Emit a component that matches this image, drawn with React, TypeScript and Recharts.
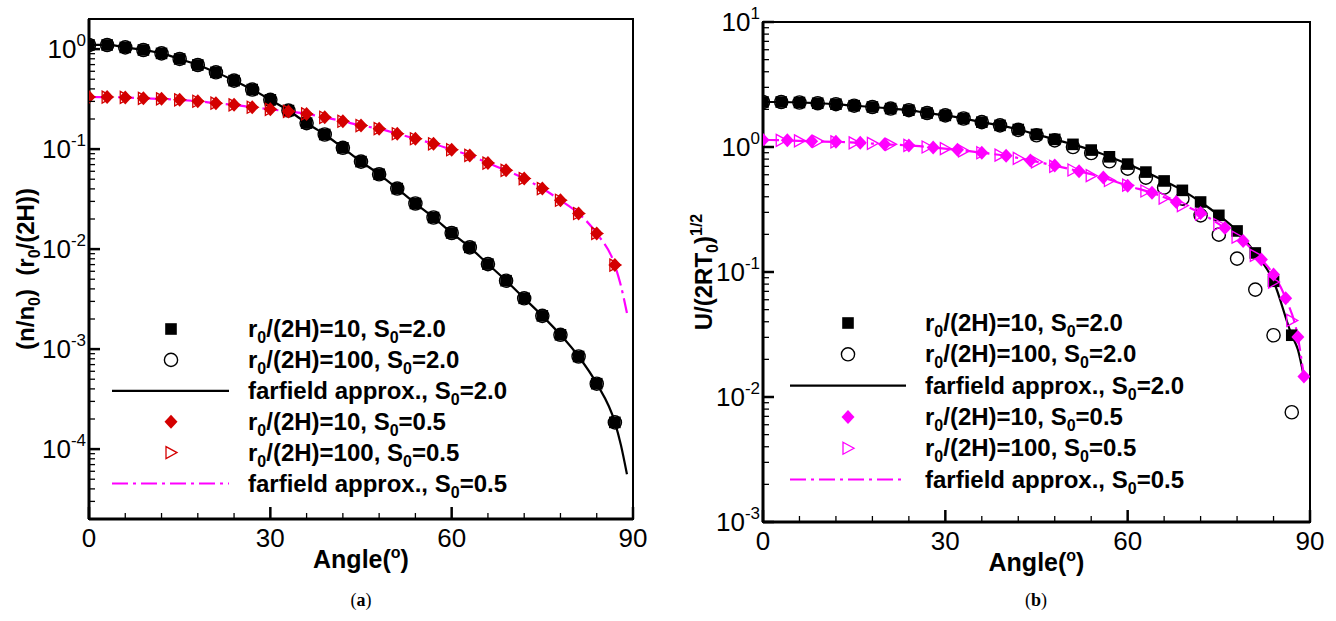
import React from "react";
import {
  ComposedChart,
  Line,
  Scatter,
  XAxis,
  YAxis,
  ReferenceArea,
  Legend,
  Label,
} from "recharts";

const FONT = "'Liberation Sans', Arial, sans-serif";
const RED = "#d40000";
const MAGENTA = "#ff00ff";

// ---------- (a) density ----------
const densAngles = [0, 3, 6, 9, 12, 15, 18, 21, 24, 27, 30, 33, 36, 39, 42, 45, 48, 51, 54, 57, 60, 63, 66, 69, 72, 75, 78, 81, 84, 87];
const densSq2 = [1.1, 1.1, 1.04, 0.98, 0.906, 0.797, 0.694, 0.586, 0.484, 0.394, 0.311, 0.243, 0.182, 0.14, 0.103, 0.075, 0.056, 0.0403, 0.0286, 0.0207, 0.0145, 0.0104, 0.00708, 0.00483, 0.00322, 0.00215, 0.00139, 0.000844, 0.000451, 0.000185];
const densCirc2 = [1.1, 1.1, 1.04, 0.98, 0.906, 0.797, 0.694, 0.586, 0.484, 0.394, 0.311, 0.243, 0.182, 0.14, 0.103, 0.075, 0.056, 0.0403, 0.0286, 0.0207, 0.0145, 0.0104, 0.00708, 0.00483, 0.00322, 0.00215, 0.00139, 0.000844, 0.000451, 0.000185];
const densLineAngles = [0, 3, 6, 9, 12, 15, 18, 21, 24, 27, 30, 33, 36, 39, 42, 45, 48, 51, 54, 57, 60, 63, 66, 69, 72, 75, 78, 81, 84, 87, 88, 89];
const densLine2 = [1.1, 1.1, 1.04, 0.98, 0.906, 0.797, 0.694, 0.586, 0.484, 0.394, 0.311, 0.243, 0.182, 0.14, 0.103, 0.075, 0.056, 0.0403, 0.0286, 0.0207, 0.0145, 0.0104, 0.00708, 0.00483, 0.00322, 0.00215, 0.00139, 0.000844, 0.000451, 0.000185, 0.00011, 0.000056];
const densDia05 = [0.332, 0.331, 0.329, 0.322, 0.318, 0.311, 0.301, 0.288, 0.277, 0.262, 0.25, 0.238, 0.225, 0.208, 0.19, 0.172, 0.16, 0.1425, 0.127, 0.113, 0.0986, 0.0865, 0.0725, 0.0613, 0.0507, 0.0403, 0.0308, 0.0227, 0.01435, 0.00692];
const densTri05 = [0.332, 0.331, 0.329, 0.322, 0.318, 0.311, 0.301, 0.288, 0.277, 0.262, 0.25, 0.238, 0.225, 0.208, 0.19, 0.172, 0.16, 0.1425, 0.127, 0.113, 0.0986, 0.0865, 0.0725, 0.0613, 0.0507, 0.0403, 0.0308, 0.0227, 0.01435, 0.00692];
const densLine05 = [0.332, 0.331, 0.329, 0.322, 0.318, 0.311, 0.301, 0.288, 0.277, 0.262, 0.25, 0.238, 0.225, 0.208, 0.19, 0.172, 0.16, 0.1425, 0.127, 0.113, 0.0986, 0.0865, 0.0725, 0.0613, 0.0507, 0.0403, 0.0308, 0.0227, 0.01435, 0.00692, 0.0043, 0.0023];

// ---------- (b) velocity ----------
const velAngles = [0, 3, 6, 9, 12, 15, 18, 21, 24, 27, 30, 33, 36, 39, 42, 45, 48, 51, 54, 57, 60, 63, 66, 69, 72, 75, 78, 81, 84, 87];
const velSq2 = [2.29, 2.29, 2.27, 2.24, 2.2, 2.14, 2.09, 2.03, 1.97, 1.87, 1.79, 1.69, 1.58, 1.49, 1.38, 1.26, 1.15, 1.05, 0.945, 0.835, 0.73, 0.63, 0.535, 0.45, 0.363, 0.284, 0.213, 0.142, 0.0843, 0.0312];
const velCirc2 = [2.29, 2.29, 2.27, 2.24, 2.2, 2.14, 2.09, 2.03, 1.97, 1.87, 1.79, 1.69, 1.58, 1.49, 1.37, 1.24, 1.13, 1.0, 0.895, 0.769, 0.671, 0.569, 0.473, 0.386, 0.284, 0.199, 0.128, 0.0723, 0.0312, 0.00755];
const velLineAngles = [0, 3, 6, 9, 12, 15, 18, 21, 24, 27, 30, 33, 36, 39, 42, 45, 48, 51, 54, 57, 60, 63, 66, 69, 72, 75, 78, 81, 84, 87, 88, 89];
const velLine2 = [2.29, 2.29, 2.27, 2.24, 2.2, 2.14, 2.09, 2.03, 1.97, 1.87, 1.79, 1.69, 1.58, 1.49, 1.38, 1.26, 1.15, 1.05, 0.945, 0.835, 0.73, 0.63, 0.535, 0.45, 0.363, 0.284, 0.213, 0.142, 0.0843, 0.0312, 0.024, 0.0145];
const velDiaAngles = [0, 4, 8, 12, 16, 20, 24, 28, 32, 36, 40, 44, 48, 52, 56, 60, 64, 68, 72, 76, 79, 82, 84, 86, 88, 89];
const velDia05 = [1.14, 1.13, 1.11, 1.1, 1.08, 1.05, 1.03, 0.99, 0.95, 0.9, 0.85, 0.78, 0.71, 0.64, 0.57, 0.49, 0.43, 0.363, 0.296, 0.225, 0.177, 0.126, 0.0953, 0.0616, 0.0302, 0.0146];
const velTri05 = [1.14, 1.13, 1.12, 1.11, 1.1, 1.08, 1.07, 1.05, 1.03, 1.0, 0.97, 0.93, 0.9, 0.86, 0.81, 0.76, 0.7, 0.655, 0.59, 0.54, 0.495, 0.445, 0.39, 0.34, 0.29, 0.24, 0.19, 0.136, 0.083, 0.041];
const velLine05 = [1.14, 1.13, 1.11, 1.1, 1.08, 1.05, 1.03, 0.99, 0.95, 0.9, 0.85, 0.78, 0.71, 0.64, 0.57, 0.49, 0.43, 0.363, 0.296, 0.225, 0.177, 0.126, 0.0953, 0.0616, 0.0302, 0.0146];

// axes
const angleTicks = [0, 6, 12, 18, 24, 30, 36, 42, 48, 54, 60, 66, 72, 78, 84, 90];
const densDomain = [2e-5, 2];
const densDecades = [-5, -4, -3, -2, -1, 0];
const velDomain = [1e-3, 10];
const velDecades = [-3, -2, -1, 0, 1];
const mantissas = [1, 2, 3, 4, 5, 6, 7, 8, 9];

const pts = (xs: number[], ys: number[]) => xs.map((a, i) => ({ a, v: ys[i] }));

const logTicks = (decades: number[], [lo, hi]: number[]) =>
  decades
    .flatMap((e) => mantissas.map((m) => m * Math.pow(10, e)))
    .filter((v) => v >= lo * 0.999 && v <= hi * 1.001);

function LogTick(props: any) {
  const { x, y, payload } = props;
  const lg = Math.log10(payload.value);
  const e = Math.round(lg);
  const major = Math.abs(lg - e) < 1e-6;
  return (
    <g>
      <line
        x1={x}
        x2={x + (major ? 11 : 6)}
        y1={y}
        y2={y}
        stroke="#000"
        strokeWidth={major ? 2.5 : 1.3}
      />
      {major && (
        <text
          x={x - 3}
          y={y}
          dy={9}
          textAnchor="end"
          fontSize={26}
          fontFamily={FONT}
          fill="#000"
        >
          10
          <tspan dy={-12} fontSize={17}>
            {e}
          </tspan>
        </text>
      )}
    </g>
  );
}

function AngleTick(props: any) {
  const { x, y, payload } = props;
  const major = payload.value % 30 === 0;
  return (
    <g>
      <line
        x1={x}
        x2={x}
        y1={y}
        y2={y - (major ? 12 : 6)}
        stroke="#000"
        strokeWidth={major ? 2.5 : 1.3}
      />
      {major && (
        <text
          x={x}
          y={y + 28}
          textAnchor="middle"
          fontSize={26}
          fontFamily={FONT}
          fill="#000"
        >
          {payload.value}
        </text>
      )}
    </g>
  );
}

const Square = (color: string) => (p: any) =>
  <rect x={p.cx - 5.8} y={p.cy - 5.8} width={11.6} height={11.6} fill={color} />;
const Circle = (color: string) => (p: any) =>
  <circle cx={p.cx} cy={p.cy} r={6.6} fill="none" stroke={color} strokeWidth={1.4} />;
const Diamond = (color: string) => (p: any) => (
  <polygon
    points={`${p.cx},${p.cy - 7} ${p.cx + 6.5},${p.cy} ${p.cx},${p.cy + 7} ${p.cx - 6.5},${p.cy}`}
    fill={color}
  />
);
const Triangle = (color: string) => (p: any) => (
  <polygon
    points={`${p.cx - 5},${p.cy - 6} ${p.cx + 6},${p.cy} ${p.cx - 5},${p.cy + 6}`}
    fill="none"
    stroke={color}
    strokeWidth={1.3}
  />
);

function SubText({ s, x, y }: { s: string; x: number; y: number }) {
  const parts = s.split("_0");
  return (
    <text x={x} y={y} fontSize={24} fontWeight="bold" fontFamily={FONT} fill="#000">
      {parts.map((p, i) => (
        <React.Fragment key={i}>
          <tspan dy={i === 0 ? 0 : -6}>{p}</tspan>
          {i < parts.length - 1 && (
            <tspan dy={6} fontSize={16}>
              0
            </tspan>
          )}
        </React.Fragment>
      ))}
    </text>
  );
}

type Row = { kind: string; color: string; text: string };

function LegendPanel({
  rows,
  markerX,
  lineX1,
  lineX2,
  textX,
  y0,
  dy,
}: {
  rows: Row[];
  markerX: number;
  lineX1: number;
  lineX2: number;
  textX: number;
  y0: number;
  dy: number;
}) {
  return (
    <svg width="100%" height="100%" style={{ overflow: "visible", pointerEvents: "none" }}>
      {rows.map((r, i) => {
        const cy = y0 + i * dy;
        const p = { cx: markerX, cy };
        let mark: React.ReactNode = null;
        if (r.kind === "square") mark = Square(r.color)(p);
        if (r.kind === "circle") mark = Circle(r.color)(p);
        if (r.kind === "diamond") mark = Diamond(r.color)(p);
        if (r.kind === "triangle") mark = Triangle(r.color)(p);
        if (r.kind === "line")
          mark = <line x1={lineX1} x2={lineX2} y1={cy} y2={cy} stroke={r.color} strokeWidth={2.2} />;
        if (r.kind === "dash")
          mark = (
            <line
              x1={lineX1}
              x2={lineX2}
              y1={cy}
              y2={cy}
              stroke={r.color}
              strokeWidth={2.2}
              strokeDasharray="16 5 3 5"
            />
          );
        return (
          <g key={i}>
            {mark}
            <SubText s={r.text} x={textX} y={cy + 8} />
          </g>
        );
      })}
    </svg>
  );
}

const legendText = [
  "r_0/(2H)=10, S_0=2.0",
  "r_0/(2H)=100, S_0=2.0",
  "farfield approx., S_0=2.0",
  "r_0/(2H)=10, S_0=0.5",
  "r_0/(2H)=100, S_0=0.5",
  "farfield approx., S_0=0.5",
];

function Panel({
  left,
  width,
  yWidth,
  margin,
  domain,
  decades,
  series,
  rows,
  legend,
  yTitle,
  yTitleX,
}: any) {
  return (
    <div style={{ position: "absolute", left, top: 0 }}>
      <ComposedChart width={width} height={621} margin={margin}>
        <XAxis
          type="number"
          dataKey="a"
          domain={[0, 90]}
          ticks={angleTicks}
          interval={0}
          allowDataOverflow
          height={60}
          tickSize={0}
          tickMargin={0}
          tickLine={false}
          tick={<AngleTick />}
          axisLine={{ stroke: "#000", strokeWidth: 3 }}
        >
          <Label
            content={(p: any) => {
              const vb = p.viewBox;
              return (
                <text
                  x={vb.x + vb.width / 2}
                  y={vb.y + 49}
                  textAnchor="middle"
                  fontSize={25}
                  fontWeight="bold"
                  fontFamily={FONT}
                  fill="#000"
                >
                  Angle(
                  <tspan dy={-10} fontSize={16}>
                    o
                  </tspan>
                  <tspan dy={10}>)</tspan>
                </text>
              );
            }}
          />
        </XAxis>
        <YAxis
          type="number"
          scale="log"
          domain={domain}
          allowDataOverflow
          ticks={logTicks(decades, domain)}
          interval={0}
          width={yWidth}
          tickSize={0}
          tickMargin={0}
          tickLine={false}
          tick={<LogTick />}
          axisLine={{ stroke: "#000", strokeWidth: 3 }}
        >
          <Label
            content={(p: any) => {
              const vb = p.viewBox;
              const cy = vb.y + vb.height / 2;
              return (
                <text
                  transform={`translate(${vb.x + yTitleX}, ${cy}) rotate(-90)`}
                  textAnchor="middle"
                  fontSize={24}
                  fontWeight="bold"
                  fontFamily={FONT}
                  fill="#000"
                  style={{ whiteSpace: "pre" }}
                >
                  {yTitle}
                </text>
              );
            }}
          />
        </YAxis>
        <ReferenceArea
          x1={0}
          x2={90}
          y1={domain[0]}
          y2={domain[1]}
          fill="none"
          stroke="#000"
          strokeWidth={2}
          ifOverflow="visible"
        />
        <Line
          data={series.line2}
          dataKey="v"
          type="monotone"
          stroke="#000"
          strokeWidth={2.2}
          dot={false}
          activeDot={false}
          isAnimationActive={false}
        />
        <Line
          data={series.line05}
          dataKey="v"
          type="monotone"
          stroke={MAGENTA}
          strokeWidth={2.2}
          strokeDasharray="16 5 3 5"
          dot={false}
          activeDot={false}
          isAnimationActive={false}
        />
        <Scatter data={series.sq2} dataKey="v" shape={Square("#000")} isAnimationActive={false} />
        <Scatter data={series.circ2} dataKey="v" shape={Circle("#000")} isAnimationActive={false} />
        <Scatter data={series.dia05} dataKey="v" shape={Diamond(series.color)} isAnimationActive={false} />
        <Scatter data={series.tri05} dataKey="v" shape={Triangle(series.color)} isAnimationActive={false} />
        <Legend
          layout="horizontal"
          verticalAlign="middle"
          align="center"
          wrapperStyle={{ left: 0, top: 0, width, height: 621 }}
          content={() => <LegendPanel rows={rows} {...legend} />}
        />
      </ComposedChart>
    </div>
  );
}

export default function App() {
  const rowsA: Row[] = [
    { kind: "square", color: "#000", text: legendText[0] },
    { kind: "circle", color: "#000", text: legendText[1] },
    { kind: "line", color: "#000", text: legendText[2] },
    { kind: "diamond", color: RED, text: legendText[3] },
    { kind: "triangle", color: RED, text: legendText[4] },
    { kind: "dash", color: MAGENTA, text: legendText[5] },
  ];
  const rowsB: Row[] = rowsA.map((r, i) => (i >= 3 && i < 5 ? { ...r, color: MAGENTA } : r));

  const seriesA = {
    sq2: pts(densAngles, densSq2),
    circ2: pts(densAngles, densCirc2),
    line2: pts(densLineAngles, densLine2),
    dia05: pts(densAngles, densDia05),
    tri05: pts(densAngles, densTri05),
    line05: pts(densLineAngles, densLine05),
    color: RED,
  };
  const seriesB = {
    sq2: pts(velAngles, velSq2),
    circ2: pts(velAngles, velCirc2),
    line2: pts(velLineAngles, velLine2),
    dia05: pts(velDiaAngles, velDia05),
    tri05: pts(velAngles, velTri05),
    line05: pts(velDiaAngles, velLine05),
    color: MAGENTA,
  };

  const titleA = (
    <>
      (n/n<tspan dy={6} fontSize={16}>0</tspan>
      <tspan dy={-6}>{")  (r"}</tspan>
      <tspan dy={6} fontSize={16}>0</tspan>
      <tspan dy={-6}>/(2H))</tspan>
    </>
  );
  const titleB = (
    <>
      U/(2RT<tspan dy={6} fontSize={16}>0</tspan>
      <tspan dy={-6}>)</tspan>
      <tspan dy={-10} fontSize={16}>1/2</tspan>
    </>
  );

  return (
    <div
      style={{
        position: "absolute",
        left: 0,
        top: 0,
        width: 1336,
        height: 621,
        background: "#fff",
        fontFamily: FONT,
      }}
    >
      <Panel
        left={0}
        width={660}
        yWidth={89}
        margin={{ top: 19, right: 27, bottom: 42, left: 0 }}
        domain={densDomain}
        decades={densDecades}
        series={seriesA}
        rows={rowsA}
        legend={{ markerX: 171, lineX1: 112, lineX2: 229, textX: 248, y0: 329, dy: 30.9 }}
        yTitle={titleA}
        yTitleX={34}
      />
      <Panel
        left={670}
        width={666}
        yWidth={93}
        margin={{ top: 22, right: 26, bottom: 39, left: 0 }}
        domain={velDomain}
        decades={velDecades}
        series={seriesB}
        rows={rowsB}
        legend={{ markerX: 178, lineX1: 120, lineX2: 236, textX: 255, y0: 323, dy: 31.3 }}
        yTitle={titleB}
        yTitleX={42}
      />
      <div
        style={{
          position: "absolute",
          left: 311,
          width: 100,
          top: 590,
          textAlign: "center",
          fontFamily: "'Liberation Serif', serif",
          fontSize: 18,
        }}
      >
        (<b>a</b>)
      </div>
      <div
        style={{
          position: "absolute",
          left: 986,
          width: 100,
          top: 590,
          textAlign: "center",
          fontFamily: "'Liberation Serif', serif",
          fontSize: 18,
        }}
      >
        (<b>b</b>)
      </div>
    </div>
  );
}
